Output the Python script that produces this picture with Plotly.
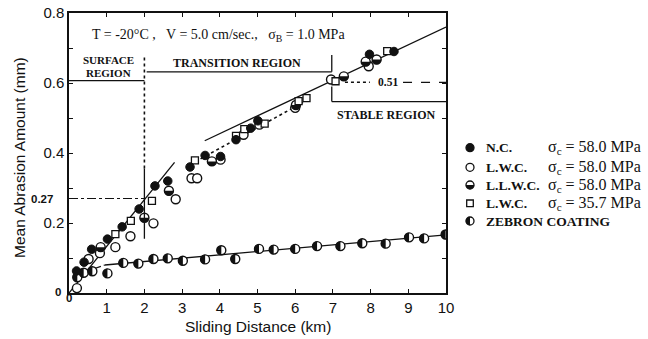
import math
import plotly.graph_objects as go

# Sliding distance (km) / mean abrasion amount (mm) for each test series
nc_x = [0.2, 0.4, 0.6, 1.02, 1.41, 1.86, 2.28, 2.62, 3.21, 3.61, 4.02, 4.43, 4.82, 5.01, 7.97, 8.62]
nc_y = [0.063, 0.088, 0.125, 0.154, 0.189, 0.24, 0.306, 0.32, 0.36, 0.393, 0.39, 0.438, 0.471, 0.492, 0.682, 0.69]

lwc_x = [0.21, 0.52, 0.82, 1.23, 1.63, 2.24, 2.83, 3.25, 3.4, 4.02, 4.63, 5.05, 6.0, 6.95, 7.95]
lwc_y = [0.014, 0.097, 0.114, 0.131, 0.162, 0.199, 0.268, 0.328, 0.328, 0.381, 0.452, 0.481, 0.529, 0.61, 0.648]

llwc_x = [0.84, 2.0, 2.65, 3.79, 6.02, 7.29, 7.87, 8.16]
llwc_y = [0.131, 0.215, 0.292, 0.376, 0.537, 0.619, 0.661, 0.667]

lwc357_x = [1.23, 1.64, 2.2, 3.34, 4.43, 4.65, 5.19, 6.09, 6.3, 7.07, 8.44]
lwc357_y = [0.168, 0.206, 0.263, 0.379, 0.449, 0.468, 0.484, 0.548, 0.557, 0.605, 0.691]

zeb_x = [0.22, 0.39, 0.62, 1.02, 1.44, 1.84, 2.24, 2.62, 3.02, 3.61, 4.04, 4.41, 5.04, 5.43,
         6.0, 6.58, 7.2, 7.78, 8.4, 9.02, 9.42, 9.99]
zeb_y = [0.045, 0.058, 0.062, 0.056, 0.086, 0.084, 0.097, 0.099, 0.092, 0.096, 0.122, 0.097,
         0.126, 0.124, 0.126, 0.134, 0.134, 0.142, 0.141, 0.159, 0.156, 0.167]

# Fitted trend lines
surface_fit_x = [0.0, 2.8]
surface_fit_y = [0.0, 0.373]
transition_fit_x = [3.35, 6.3]
transition_fit_y = [0.375, 0.55]
stable_fit_x = [3.6, 10.0]
stable_fit_y = [0.435, 0.76]
zeb_start_x = [0.62, 0.95]
zeb_start_y = [0.068, 0.08]
zeb_fit_x = [0.95, 10.0]
zeb_fit_y = [0.08, 0.166]

# Reference levels
surface_limit_km = 2.0
surface_level = 0.27
stable_level = 0.602

x_ticks = [1, 2, 3, 4, 5, 6, 7, 8, 9, 10]
y_ticks = [0.2, 0.4, 0.6, 0.8]

SERIF = "Liberation Serif"
SANS = "Liberation Sans"
BLACK = "#111111"

# plot area in pixels
L, R, T, B = 69, 446, 13, 293
W, H = 648, 339

def px_to_paper_x(px):
    return (px - L) / (R - L)

def px_to_paper_y(py):
    return (B - py) / (B - T)

fig = go.Figure()

line_style = dict(color=BLACK, width=1.3)
fig.add_trace(go.Scatter(x=surface_fit_x, y=surface_fit_y, mode="lines", line=line_style))
fig.add_trace(go.Scatter(x=transition_fit_x, y=transition_fit_y, mode="lines",
                         line=dict(color=BLACK, width=1.6, dash="dot")))
fig.add_trace(go.Scatter(x=stable_fit_x, y=stable_fit_y, mode="lines", line=line_style))
fig.add_trace(go.Scatter(x=zeb_start_x, y=zeb_start_y, mode="lines",
                         line=dict(color=BLACK, width=1.2, dash="dashdot")))
fig.add_trace(go.Scatter(x=zeb_fit_x, y=zeb_fit_y, mode="lines", line=line_style))

MS = 9
open_marker = dict(symbol="circle", size=MS, color="white", line=dict(color=BLACK, width=1.4))

fig.add_trace(go.Scatter(x=zeb_x, y=zeb_y, mode="markers", marker=open_marker))
fig.add_trace(go.Scatter(x=lwc_x, y=lwc_y, mode="markers", marker=open_marker))
fig.add_trace(go.Scatter(x=llwc_x, y=llwc_y, mode="markers", marker=open_marker))
fig.add_trace(go.Scatter(x=lwc357_x, y=lwc357_y, mode="markers",
                         marker=dict(symbol="square", size=7, color="white",
                                     line=dict(color=BLACK, width=1.3))))
fig.add_trace(go.Scatter(x=nc_x, y=nc_y, mode="markers",
                         marker=dict(symbol="circle", size=8.5, color=BLACK,
                                     line=dict(color=BLACK, width=1))))

shapes = []

def half_path(r, side):
    # half disc in pixel offsets; side "bottom" or "left"
    pts = []
    n = 14
    for i in range(n + 1):
        a = math.pi * i / n
        if side == "bottom":
            pts.append((r * math.cos(a), -r * math.sin(a)))
        else:
            pts.append((-r * math.sin(a), r * math.cos(a)))
    return "M " + " L ".join(f"{x:.2f},{y:.2f}" for x, y in pts) + " Z"

def add_half(x, y, r, side, xref="x", yref="y"):
    shapes.append(dict(type="path", xref=xref, yref=yref, xsizemode="pixel", ysizemode="pixel",
                       xanchor=x, yanchor=y, path=half_path(r, side),
                       fillcolor=BLACK, line=dict(width=0), layer="above"))

# half-filled symbols for L.L.W.C. (lower half) and ZEBRON (left half)
for x, y in zip(llwc_x, llwc_y):
    add_half(x, y, MS / 2 + 0.2, "bottom")
for x, y in zip(zeb_x, zeb_y):
    add_half(x, y, MS / 2 + 0.2, "left")

def seg(x0, y0, x1, y1, dash="solid", width=1.3):
    shapes.append(dict(type="line", xref="x", yref="y", x0=x0, y0=y0, x1=x1, y1=y1,
                       line=dict(color=BLACK, width=width, dash=dash)))

# Region boundaries
seg(0, 0.607, surface_limit_km, 0.607)
seg(2.06, 0.632, 6.97, 0.632)
seg(6.97, 0.632, 6.97, 0.68)
seg(6.97, 0.59, 6.97, 0.547)
seg(6.97, 0.547, 10, 0.547)
seg(surface_limit_km, 0.155, surface_limit_km, 0.356)
seg(surface_limit_km, 0.356, surface_limit_km, 0.675, dash="dot", width=1.6)
seg(0, surface_level, surface_limit_km, surface_level, dash="dashdot", width=1.2)
seg(7.32, stable_level, 7.98, stable_level, dash="dot", width=1.6)
seg(8.86, stable_level, 10, stable_level, dash="dash", width=1.2)

annotations = []
def note(text, x, y, size=11, family=SERIF, bold=False, xref="x", yref="y",
         xanchor="center", yanchor="middle", angle=0):
    if bold:
        text = "<b>" + text + "</b>"
    annotations.append(dict(text=text, x=x, y=y, xref=xref, yref=yref, showarrow=False,
                            xanchor=xanchor, yanchor=yanchor, textangle=angle,
                            font=dict(family=family, size=size, color=BLACK)))

note("T = -20°C ,   V = 5.0 cm/sec.,   σ<sub>B</sub> = 1.0 MPa", 3.96, 0.735, size=14)
note("SURFACE", 1.05, 0.665, size=11, bold=True)
note("REGION", 1.05, 0.63, size=11, bold=True)
note("TRANSITION REGION", 4.45, 0.658, size=12, bold=True)
note("STABLE REGION", 8.42, 0.509, size=12, bold=True)
note("0.51", 8.45, stable_level, size=11.5, bold=True)

# axis labels placed outside the plot area
note(f"{surface_level:.2f}", px_to_paper_x(42), surface_level / 0.8, size=11.5, family=SANS,
     bold=True, xref="paper", yref="paper")
note("0", px_to_paper_x(58), px_to_paper_y(292), size=11.5, family=SANS, bold=True,
     xref="paper", yref="paper")
note("0", px_to_paper_x(69), px_to_paper_y(298), size=11.5, family=SANS, bold=True,
     xref="paper", yref="paper")
note("Sliding Distance (km)", px_to_paper_x(258), px_to_paper_y(326), size=15.5, family=SANS,
     xref="paper", yref="paper")
note("Mean Abrasion Amount (mm)", px_to_paper_x(20), px_to_paper_y(158), size=15.5, family=SANS,
     xref="paper", yref="paper", angle=-90)

# Legend
legend_rows = [
    ("filled", "N.C.", "σ<sub>c</sub> = 58.0 MPa"),
    ("open", "L.W.C.", "σ<sub>c</sub> = 58.0 MPa"),
    ("bottom", "L.L.W.C.", "σ<sub>c</sub> = 58.0 MPa"),
    ("square", "L.W.C.", "σ<sub>c</sub> = 35.7 MPa"),
    ("left", "ZEBRON COATING", ""),
]
row_y = [147.7, 167.3, 185.0, 203.3, 221.0]
icon_x = px_to_paper_x(470)
for (kind, name, stress), py in zip(legend_rows, row_y):
    yp = px_to_paper_y(py)
    r = 4
    if kind == "square":
        r = 3.3
    base = dict(xref="paper", yref="paper", xsizemode="pixel", ysizemode="pixel",
                xanchor=icon_x, yanchor=yp, x0=-r, x1=r, y0=-r, y1=r,
                line=dict(color=BLACK, width=1.3),
                fillcolor=BLACK if kind == "filled" else "white")
    base["type"] = "rect" if kind == "square" else "circle"
    shapes.append(base)
    if kind in ("bottom", "left"):
        add_half(icon_x, yp, r + 0.2, kind, xref="paper", yref="paper")
    note(name, px_to_paper_x(484), yp, size=13.5, bold=True, xref="paper", yref="paper",
         xanchor="left")
    if stress:
        note(stress, px_to_paper_x(546), yp, size=16, xref="paper", yref="paper",
             xanchor="left")

fig.update_layout(
    width=W, height=H,
    margin=dict(l=L, r=W - R, t=T, b=H - B),
    paper_bgcolor="white", plot_bgcolor="white",
    showlegend=False,
    shapes=shapes, annotations=annotations,
    xaxis=dict(range=[0, 10], tickvals=x_ticks, ticktext=[str(v) for v in x_ticks],
               automargin=False,
               showgrid=False, zeroline=False, showline=True, linecolor=BLACK, linewidth=1.5,
               mirror="ticks", ticks="inside", ticklen=4, tickcolor=BLACK,
               tickfont=dict(family=SANS, size=15, color=BLACK)),
    yaxis=dict(range=[0, 0.8], tickvals=y_ticks, ticktext=["0.2", "0.4", "0.6", "0.8"],
               automargin=False,
               showgrid=False, zeroline=False, showline=True, linecolor=BLACK, linewidth=1.5,
               mirror="ticks", ticks="inside", ticklen=4, tickcolor=BLACK,
               minor=dict(dtick=0.1, ticks="inside", ticklen=4, tickcolor=BLACK),
               tickfont=dict(family=SANS, size=15, color=BLACK)),
)

fig.write_html("out.html")
